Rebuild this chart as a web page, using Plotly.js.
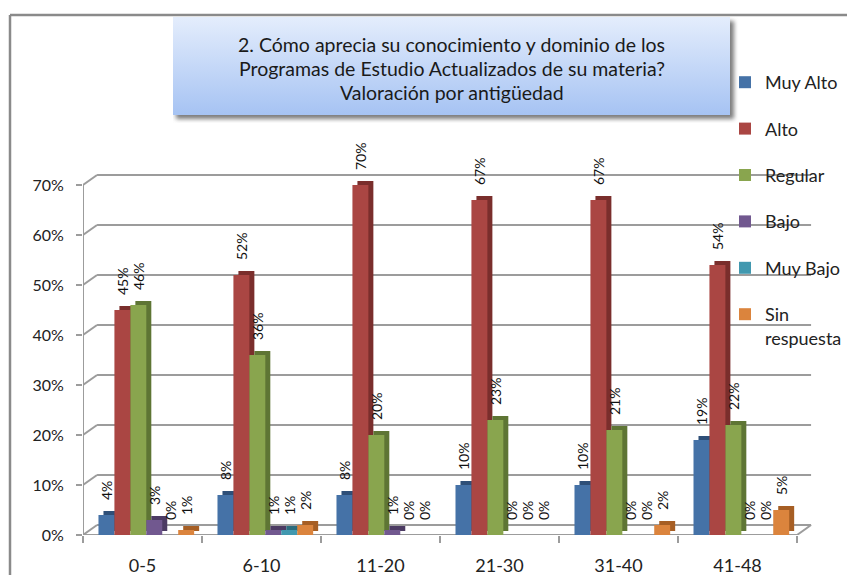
<!DOCTYPE html>
<html>
<head>
<meta charset="utf-8">
<script src="https://cdn.plot.ly/plotly-3.0.1.min.js"></script>
<style>
  html, body { margin: 0; padding: 0; background: #ffffff; }
  #chart { width: 847px; height: 575px; }
</style>
</head>
<body>
<div id="chart"></div>
<script>
// Seniority bands (years of service)
const categories = ['0-5', '6-10', '11-20', '21-30', '31-40', '41-48'];

// Share of answers per band, in percent
const muyAlto      = [4, 8, 8, 10, 10, 19];
const alto         = [45, 52, 70, 67, 67, 54];
const regular      = [46, 36, 20, 23, 21, 22];
const bajo         = [3, 1, 1, 0, 0, 0];
const muyBajo      = [0, 1, 0, 0, 0, 0];
const sinRespuesta = [1, 2, 0, 0, 2, 5];

const seriesNames  = ['Muy Alto', 'Alto', 'Regular', 'Bajo', 'Muy Bajo', 'Sin<br>respuesta'];
const seriesValues = [muyAlto, alto, regular, bajo, muyBajo, sinRespuesta];

const yTickValues = [0, 10, 20, 30, 40, 50, 60, 70];
const yTickLabels = ['0%', '10%', '20%', '30%', '40%', '50%', '60%', '70%'];

const titleLines = [
  '2. Cómo aprecia su conocimiento y dominio de los',
  'Programas de Estudio Actualizados de su materia?',
  'Valoración por antigüedad'
];

// Styling
const frontColors = ['#4572A7', '#AA4643', '#89A54E', '#71588F', '#4198AF', '#DB843D'];
const sideColors  = ['#2E4F78', '#7A2E2C', '#5E7534', '#4C3B63', '#2B6C7D', '#A65E24'];
const FONT = 'Lato, "Open Sans", sans-serif';

const BAR_W = 0.134;      // width of one bar, in category units
const GROUP_START = -0.37; // left edge of the first bar in a group
const SIDE_DX = 0.042;    // bar depth, horizontal
const SIDE_DY = 0.8;      // bar depth, vertical (percent units)
const LABEL_GAP = 2.4;    // space between a bar top and its label
const WALL_DX = 0.118;    // back-wall offset, horizontal
const WALL_DY = 2;        // back-wall offset, vertical

const traces = [];
seriesValues.forEach((vals, i) => {
  const off = GROUP_START + i * BAR_W;
  const group = 'g' + i;
  // side/top face of each bar
  traces.push({
    type: 'bar', x: categories, y: vals, base: SIDE_DY,
    offset: off + SIDE_DX, width: BAR_W,
    marker: { color: sideColors[i], line: { width: 0 } },
    hoverinfo: 'skip', showlegend: false, legendgroup: group
  });
  // front face
  traces.push({
    type: 'bar', x: categories, y: vals, name: seriesNames[i],
    offset: off, width: BAR_W,
    marker: { color: frontColors[i], line: { width: 0 } },
    legendgroup: group, showlegend: true,
    hovertemplate: '%{x}: %{y}%<extra></extra>'
  });
  // value labels sitting above each bar
  traces.push({
    type: 'bar', x: categories, y: vals.map(() => LABEL_GAP), base: vals,
    offset: off, width: BAR_W,
    marker: { color: 'rgba(0,0,0,0)', line: { width: 0 } },
    text: vals.map(v => v + '%'), texttemplate: '%{text}',
    textposition: 'outside', textangle: -90, constraintext: 'none',
    cliponaxis: false,
    textfont: { family: FONT, size: 14, color: '#111' },
    hoverinfo: 'skip', showlegend: false, legendgroup: group
  });
});

// Frame lines: front axis, floor edge, slanted connectors and back-wall grid
const gridColor = '#9c9c9c';
const shapes = [];
yTickValues.forEach(v => {
  shapes.push({ type: 'line', xref: 'x', yref: 'y', layer: 'below',
    x0: -0.5 + WALL_DX, x1: 5.5 + WALL_DX, y0: v + WALL_DY, y1: v + WALL_DY,
    line: { color: gridColor, width: 2 } });
  shapes.push({ type: 'line', xref: 'x', yref: 'y', layer: 'below',
    x0: -0.5, x1: -0.5 + WALL_DX, y0: v, y1: v + WALL_DY,
    line: { color: gridColor, width: 2 } });
});
shapes.push({ type: 'line', xref: 'x', yref: 'y', layer: 'below',
  x0: -0.5, x1: -0.5, y0: 0, y1: 70, line: { color: gridColor, width: 2 } });
shapes.push({ type: 'line', xref: 'x', yref: 'y', layer: 'below',
  x0: -0.5, x1: 5.5, y0: 0, y1: 0, line: { color: gridColor, width: 2 } });
shapes.push({ type: 'line', xref: 'x', yref: 'y', layer: 'below',
  x0: 5.5, x1: 5.5 + WALL_DX, y0: 0, y1: WALL_DY, line: { color: gridColor, width: 2 } });
// chart border
shapes.push({ type: 'line', xref: 'paper', yref: 'paper',
  x0: 10 / 847, x1: 10 / 847, y0: 0, y1: 1 - 15 / 575, line: { color: '#8a8a8a', width: 2.5 } });
shapes.push({ type: 'line', xref: 'paper', yref: 'paper',
  x0: 10 / 847, x1: 1, y0: 1 - 15 / 575, y1: 1 - 15 / 575, line: { color: '#8a8a8a', width: 2.5 } });

// Title box with a soft blue gradient and drop shadow
const boxSvg =
  "<svg xmlns='http://www.w3.org/2000/svg' width='566' height='106'>" +
  "<defs><linearGradient id='g' x1='0' y1='0' x2='0' y2='1'>" +
  "<stop offset='0' stop-color='#e4edfc'/><stop offset='1' stop-color='#a6c3f3'/></linearGradient>" +
  "<filter id='s' x='-10%' y='-10%' width='120%' height='130%'><feGaussianBlur stdDeviation='2.2'/></filter></defs>" +
  "<rect x='3' y='4' width='558' height='98' fill='#7d7d7d' filter='url(#s)'/>" +
  "<rect x='0' y='0' width='557' height='98' fill='url(#g)'/></svg>";

// one annotation per title line, 23.5px apart
const titleAnnotations = titleLines.map((line, k) => ({
  xref: 'paper', yref: 'paper', x: 451.5 / 847, y: 1 - (45 + 23.5 * k) / 575,
  xanchor: 'center', yanchor: 'middle', showarrow: false, align: 'center',
  text: line, font: { family: FONT, size: 19.5, color: '#1a1a1a' }
}));

const layout = {
  width: 847, height: 575,
  margin: { l: 0, r: 0, t: 0, b: 0, pad: 0 },
  paper_bgcolor: '#ffffff', plot_bgcolor: 'rgba(0,0,0,0)',
  barmode: 'overlay',
  font: { family: FONT, color: '#222' },
  xaxis: {
    type: 'category', domain: [83 / 847, 812.5 / 847], range: [-0.5, 5.63],
    showgrid: false, zeroline: false, showline: false,
    ticks: 'outside', tickson: 'boundaries', ticklen: 7, tickwidth: 2, tickcolor: gridColor,
    ticklabelstandoff: 18,
    tickfont: { family: FONT, size: 18, color: '#222' }, fixedrange: true
  },
  yaxis: {
    domain: [1 - 535 / 575, 1 - 172.5 / 575], range: [0, 72.5],
    tickvals: yTickValues, ticktext: yTickLabels,
    showgrid: false, zeroline: false, showline: false,
    ticks: 'outside', ticklen: 6, tickwidth: 2, tickcolor: gridColor,
    ticklabelstandoff: 9,
    tickfont: { family: FONT, size: 16, color: '#222' }, fixedrange: true
  },
  showlegend: true,
  legend: {
    x: 725 / 847, y: 1 - 64 / 575, xanchor: 'left', yanchor: 'top',
    bgcolor: 'rgba(0,0,0,0)', borderwidth: 0,
    font: { family: FONT, size: 18, color: '#222' },
    traceorder: 'grouped', tracegroupgap: 20, itemwidth: 30, valign: 'top'
  },
  images: [{
    source: 'data:image/svg+xml;charset=utf-8,' + encodeURIComponent(boxSvg),
    xref: 'paper', yref: 'paper', x: 173 / 847, y: 1 - 17 / 575,
    sizex: 566 / 847, sizey: 106 / 575, xanchor: 'left', yanchor: 'top',
    sizing: 'stretch', layer: 'below'
  }],
  annotations: titleAnnotations,
  shapes: shapes
};

Plotly.newPlot('chart', traces, layout, { displayModeBar: false, staticPlot: true });
</script>
</body>
</html>
